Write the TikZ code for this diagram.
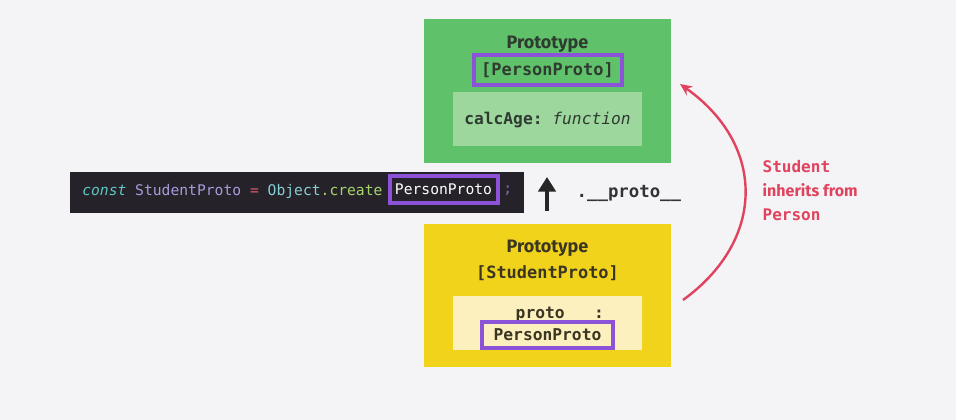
\documentclass[tikz,border=0pt]{standalone}
\usepackage{fontspec}
\setmainfont{Fira Sans}
\setmonofont{DejaVu Sans Mono}
\usetikzlibrary{arrows.meta,positioning}
\definecolor{bgc}{HTML}{F4F3F6}
\definecolor{grn}{HTML}{5FC26A}
\definecolor{lgrn}{HTML}{9DD79E}
\definecolor{ylw}{HTML}{F2D31B}
\definecolor{lylw}{HTML}{FCF0BE}
\definecolor{prp}{HTML}{8C52D8}
\definecolor{codebg}{HTML}{252329}
\definecolor{redc}{HTML}{E0435E}
\definecolor{dtxt}{HTML}{2F3A30}
\definecolor{ytxt}{HTML}{3B3622}
\definecolor{cteal}{HTML}{5CC9C6}
\definecolor{cpurp}{HTML}{A79BDC}
\definecolor{cred}{HTML}{E0566A}
\definecolor{cobj}{HTML}{86CFD6}
\definecolor{cgrn}{HTML}{A6D46C}
\definecolor{csemi}{HTML}{7D6FB0}
\begin{document}
\begin{tikzpicture}[x=0.75pt,y=-0.75pt,
  box/.style={draw=none,inner sep=0pt,anchor=north west},
  hdr/.style={font=\fontsize{13.5}{15}\selectfont\bfseries},
  monot/.style={font=\fontsize{12.7}{15}\ttfamily\bfseries},
  bodyt/.style={font=\fontsize{12.2}{14}\ttfamily\bfseries},
  redtxt/.style={text=redc,align=left,anchor=west,font=\fontsize{12}{18}\selectfont\bfseries}]
\fill[bgc] (0,0) rectangle (956,420);
\useasboundingbox (0,0) rectangle (956,420);
% green prototype box
\fill[grn] (424,19) rectangle (671,163);
\fill[lgrn] (453,92) rectangle (642,146);
\node[hdr,text=dtxt] (gtitle) at (547.5,44) {Prototype};
\node[monot,text=dtxt,draw=prp,line width=3pt,minimum width=111pt,minimum height=22pt,inner sep=1pt] (gname) at (547.5,70) {[PersonProto]};
\node[bodyt,text=dtxt] (calc) at (547.5,120) {calcAge: {\mdseries\itshape function}};
% yellow prototype box
\fill[ylw] (424,224) rectangle (671,367);
\fill[lylw] (453,296) rectangle (642,350);
\node[hdr,text=ytxt] (ytitle) at (547.5,248) {Prototype};
\node[monot,text=ytxt] (yname) at (547.5,273) {[StudentProto]};
\node[bodyt,text=ytxt] (protol) at (550,315) {\_\_proto\_\_ :};
\node[bodyt,text=ytxt,draw=prp,line width=3pt,fill=lylw,minimum width=98.25pt,minimum height=19.5pt,inner sep=1pt] (pp) at (547.5,335) {PersonProto};
% code bar
\fill[codebg] (70,172) rectangle (524,213);
\node[anchor=west,inner sep=0pt,font=\fontsize{11}{13}\ttfamily] (c1) at (82,191)
  {\textcolor{cteal}{\itshape const} \textcolor{cpurp}{StudentProto} \textcolor{cred}{=} \textcolor{cobj}{Object}\textcolor{cgrn}{.create}};
\node[font=\fontsize{11}{13}\ttfamily,text=white,draw=prp,line width=3pt,minimum width=81pt,minimum height=20pt,inner sep=1pt] (c2) at (443.5,189.5) {PersonProto};
\node[anchor=west,inner sep=0pt,font=\fontsize{11}{13}\ttfamily,text=csemi] (c3) at (503,191) {;};
% black up arrow
\coordinate (abot) at (547,211);
\coordinate (atop) at (547,177);
\draw[line width=3.4pt,-{Triangle[width=13pt,length=11pt]},black!85] (abot) -- (atop);
\node[anchor=west,font=\fontsize{13}{15}\ttfamily\bfseries,text=black!80] (dproto) at (572,193) {.\_\_proto\_\_};
% red curved arrow
\coordinate (rs) at (683,300);
\coordinate (re) at (680,84);
\draw[redc,line width=1.8pt,-{Stealth[length=9pt,width=8pt]}] (rs) .. controls (766,240) and (766,145) .. (re);
\node[redtxt] (inh) at (758,191) {{\ttfamily Student}\\inherits from\\{\ttfamily Person}};
\end{tikzpicture}
\end{document}
